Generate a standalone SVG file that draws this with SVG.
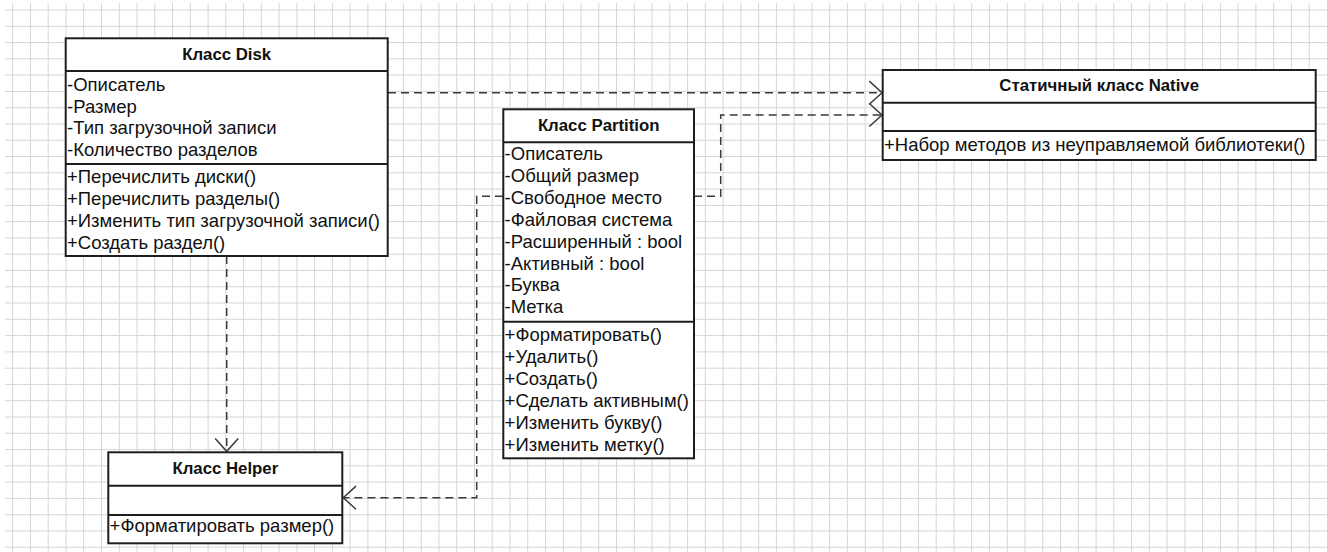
<svg xmlns="http://www.w3.org/2000/svg" width="1327" height="552" viewBox="0 0 1327 552">
<style>
.grid{stroke:#d6d6d6;stroke-width:1;fill:none}
.box{fill:#ffffff;stroke:#1e1e1e;stroke-width:2}
.sep{stroke:#1e1e1e;stroke-width:2}
.t{font-family:"Liberation Sans",Arial,sans-serif;font-size:18.5px;fill:#111}
.h{font-family:"Liberation Sans",Arial,sans-serif;font-size:16.8px;font-weight:bold;fill:#111;text-anchor:middle}
.dep{fill:none;stroke:#3a3a3a;stroke-width:1.5;stroke-dasharray:8 5}
</style>
<defs>
<marker id="open" markerUnits="userSpaceOnUse" markerWidth="30" markerHeight="30" viewBox="-14 -13 16 26" refX="0" refY="0" orient="auto">
<path d="M-11,-10 L0,0 L-11,10" fill="none" stroke="#3a3a3a" stroke-width="1.3" stroke-dasharray="none"/>
</marker>
</defs>
<rect width="1327" height="552" fill="#ffffff"/>
<g id="grid">
<path class="grid" d="M12.7 3V552M30.5 3V552M48.2 3V552M66 3V552M83.7 3V552M101.5 3V552M119.3 3V552M137 3V552M154.8 3V552M172.5 3V552M190.3 3V552M208.1 3V552M225.8 3V552M243.6 3V552M261.3 3V552M279.1 3V552M296.9 3V552M314.6 3V552M332.4 3V552M350.1 3V552M367.9 3V552M385.7 3V552M403.4 3V552M421.2 3V552M438.9 3V552M456.7 3V552M474.5 3V552M492.2 3V552M510 3V552M527.7 3V552M545.5 3V552M563.3 3V552M581 3V552M598.8 3V552M616.5 3V552M634.3 3V552M652.1 3V552M669.8 3V552M687.6 3V552M705.3 3V552M723.1 3V552M740.9 3V552M758.6 3V552M776.4 3V552M794.1 3V552M811.9 3V552M829.7 3V552M847.4 3V552M865.2 3V552M882.9 3V552M900.7 3V552M918.5 3V552M936.2 3V552M954 3V552M971.7 3V552M989.5 3V552M1007.3 3V552M1025 3V552M1042.8 3V552M1060.5 3V552M1078.3 3V552M1096.1 3V552M1113.8 3V552M1131.6 3V552M1149.3 3V552M1167.1 3V552M1184.9 3V552M1202.6 3V552M1220.4 3V552M1238.1 3V552M1255.9 3V552M1273.7 3V552M1291.4 3V552M1309.2 3V552"/>
<path class="grid" d="M5 10H1327M5 26.3H1327M5 42.6H1327M5 58.8H1327M5 75.1H1327M5 91.4H1327M5 107.7H1327M5 124H1327M5 140.2H1327M5 156.5H1327M5 172.8H1327M5 189.1H1327M5 205.4H1327M5 221.6H1327M5 237.9H1327M5 254.2H1327M5 270.5H1327M5 286.8H1327M5 303H1327M5 319.3H1327M5 335.6H1327M5 351.9H1327M5 368.2H1327M5 384.4H1327M5 400.7H1327M5 417H1327M5 433.3H1327M5 449.6H1327M5 465.8H1327M5 482.1H1327M5 498.4H1327M5 514.7H1327M5 531H1327M5 547.2H1327"/>
</g>
<g id="connectors">
<path class="dep" d="M388 92.7H882" marker-end="url(#open)"/>
<path class="dep" d="M694 196.3H720.7V115H882" marker-end="url(#open)"/>
<path class="dep" d="M503 196.3H476.7V497.7H343.3" marker-end="url(#open)"/>
<path class="dep" d="M226.7 256V451.3" marker-end="url(#open)"/>
</g>
<g id="disk">
<rect class="box" x="65.7" y="38.3" width="322" height="217.7"/>
<line class="sep" x1="65.7" y1="71" x2="387.7" y2="71"/>
<line class="sep" x1="65.7" y1="164" x2="387.7" y2="164"/>
<text class="h" x="226.7" y="60">Класс Disk</text>
<text class="t" x="67" y="90.7">-Описатель</text>
<text class="t" x="67" y="112.5">-Размер</text>
<text class="t" x="67" y="134.2">-Тип загрузочной записи</text>
<text class="t" x="67" y="156">-Количество разделов</text>
<text class="t" x="67" y="183">+Перечислить диски()</text>
<text class="t" x="67" y="205">+Перечислить разделы()</text>
<text class="t" x="67" y="226.8">+Изменить тип загрузочной записи()</text>
<text class="t" x="67" y="248.5">+Создать раздел()</text>
</g>
<g id="partition">
<rect class="box" x="503.3" y="109.3" width="190.7" height="349"/>
<line class="sep" x1="503.3" y1="142.3" x2="694" y2="142.3"/>
<line class="sep" x1="503.3" y1="321.7" x2="694" y2="321.7"/>
<text class="h" x="598.7" y="130.7">Класс Partition</text>
<text class="t" x="504.6" y="160">-Описатель</text>
<text class="t" x="504.6" y="181.9">-Общий размер</text>
<text class="t" x="504.6" y="203.8">-Свободное место</text>
<text class="t" x="504.6" y="225.7">-Файловая система</text>
<text class="t" x="504.6" y="247.6">-Расширенный : bool</text>
<text class="t" x="504.6" y="269.5">-Активный : bool</text>
<text class="t" x="504.6" y="291.4">-Буква</text>
<text class="t" x="504.6" y="313.3">-Метка</text>
<text class="t" x="504.6" y="341">+Форматировать()</text>
<text class="t" x="504.6" y="362.9">+Удалить()</text>
<text class="t" x="504.6" y="384.8">+Создать()</text>
<text class="t" x="504.6" y="406.7">+Сделать активным()</text>
<text class="t" x="504.6" y="428.6">+Изменить букву()</text>
<text class="t" x="504.6" y="450.5">+Изменить метку()</text>
</g>
<g id="native">
<rect class="box" x="882.7" y="70" width="433" height="90"/>
<line class="sep" x1="882.7" y1="102.7" x2="1315.7" y2="102.7"/>
<line class="sep" x1="882.7" y1="131" x2="1315.7" y2="131"/>
<text class="h" x="1099.2" y="91">Статичный класс Native</text>
<text class="t" x="884" y="150.7">+Набор методов из неуправляемой библиотеки()</text>
</g>
<g id="helper">
<rect class="box" x="108.3" y="452.3" width="234" height="91"/>
<line class="sep" x1="108.3" y1="485.7" x2="342.3" y2="485.7"/>
<line class="sep" x1="108.3" y1="515" x2="342.3" y2="515"/>
<text class="h" x="225.3" y="474.3">Класс Helper</text>
<text class="t" x="109.6" y="531.7">+Форматировать размер()</text>
</g>
</svg>
